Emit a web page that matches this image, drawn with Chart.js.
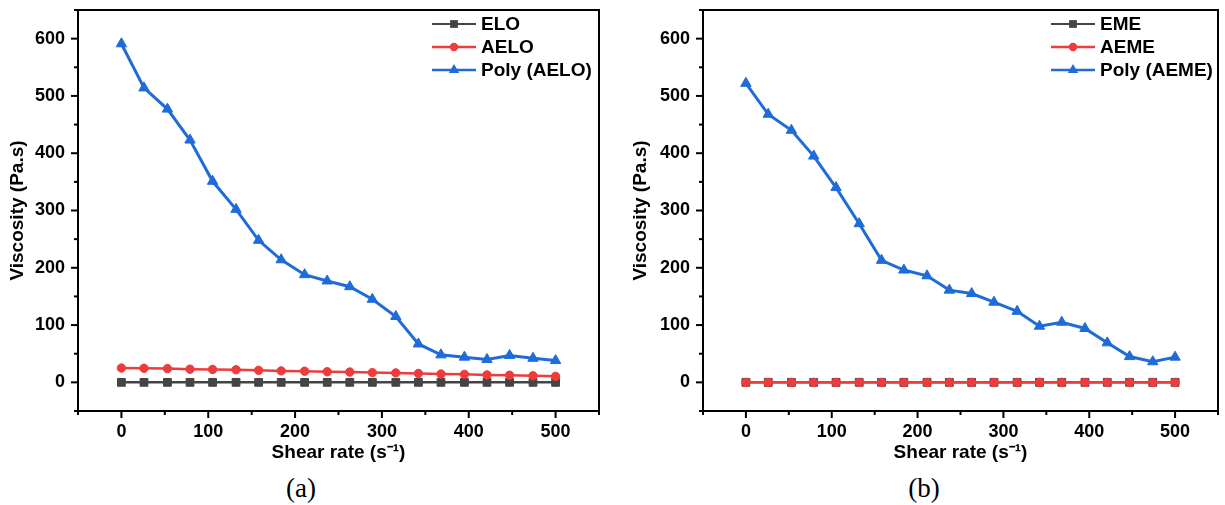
<!DOCTYPE html>
<html>
<head>
<meta charset="utf-8">
<script src="https://cdn.jsdelivr.net/npm/chart.js@4.4.1/dist/chart.umd.min.js"></script>
<style>
  html, body { margin: 0; padding: 0; background: #fff; }
  #wrap { position: relative; width: 1225px; height: 505px; }
  .panel { position: absolute; top: 0; height: 470px; }
  #pa { left: 0; width: 612px; }
  #pb { left: 612px; width: 613px; }
  .cap { position: absolute; top: 473px; width: 80px; text-align: center;
         font-family: "Liberation Serif", "Times New Roman", serif; font-size: 27px; color: #000; }
</style>
</head>
<body>
<div id="wrap">
  <div class="panel" id="pa"><canvas id="chartA"></canvas></div>
  <div class="panel" id="pb"><canvas id="chartB"></canvas></div>
  <div class="cap" style="left:261px">(a)</div>
  <div class="cap" style="left:884px">(b)</div>
</div>
<script>
// shear rate (s-1), same for every series
const shearRate = [0, 26, 53, 79, 105, 132, 158, 184, 211, 237, 263, 289, 316, 342, 368, 395, 421, 447, 474, 500];

// panel (a)
const eloVisc = [0, 0, 0, 0, 0, 0, 0, 0, 0, 0, 0, 0, 0, 0, 0, 0, 0, 0, 0, 0];
const aeloVisc = [25, 24.5, 24, 23, 22.5, 22, 21, 20, 19.5, 18.5, 18, 17, 16.5, 15.5, 14.5, 14, 13, 12.5, 11.5, 10.5];
const polyAeloVisc = [591, 514, 477, 423, 351, 302, 248, 214, 188, 177, 167, 145, 115, 67, 48, 44, 40, 47, 42, 38];

// panel (b)
const emeVisc = [0, 0, 0, 0, 0, 0, 0, 0, 0, 0, 0, 0, 0, 0, 0, 0, 0, 0, 0, 0];
const aemeVisc = [0, 0, 0, 0, 0, 0, 0, 0, 0, 0, 0, 0, 0, 0, 0, 0, 0, 0, 0, 0];
const polyAemeVisc = [522, 468, 440, 395, 340, 277, 213, 196, 186, 161, 155, 140, 124, 98, 105, 94, 69, 45, 36, 44];

const namesA = ['ELO', 'AELO', 'Poly (AELO)'];
const namesB = ['EME', 'AEME', 'Poly (AEME)'];

const xRange = [-50, 550];
const yRange = [-50, 650];

const BLACK = '#454545';
const RED = '#ef3b3b';
const BLUE = '#1f6bd8';
const FONT = '"Liberation Sans", Arial, sans-serif';

function pts(ys) {
  return shearRate.map((x, i) => ({ x: x, y: ys[i] }));
}

function series(names, ys) {
  const styles = [
    { color: BLACK, pointStyle: 'rect', pointRadius: 5.5, borderWidth: 2.5, order: 2 },
    { color: RED, pointStyle: 'circle', pointRadius: 4.2, borderWidth: 2.5, order: 1 },
    { color: BLUE, pointStyle: 'triangle', pointRadius: 6, borderWidth: 3, order: 0 }
  ];
  return names.map((n, i) => ({
    label: n,
    data: pts(ys[i]),
    borderColor: styles[i].color,
    backgroundColor: styles[i].color,
    pointBackgroundColor: styles[i].color,
    pointBorderColor: styles[i].color,
    pointBorderWidth: 1,
    pointStyle: styles[i].pointStyle,
    pointRadius: styles[i].pointRadius,
    borderWidth: styles[i].borderWidth,
    order: styles[i].order,
    tension: 0
  }));
}

function marker(ctx, style, x, y, r, color) {
  ctx.fillStyle = color;
  ctx.beginPath();
  if (style === 'rect') {
    const s = r * Math.SQRT1_2;
    ctx.rect(x - s, y - s, 2 * s, 2 * s);
  } else if (style === 'circle') {
    ctx.arc(x, y, r, 0, Math.PI * 2);
  } else {
    ctx.moveTo(x, y - r);
    ctx.lineTo(x + r * 0.866, y + r * 0.5);
    ctx.lineTo(x - r * 0.866, y + r * 0.5);
    ctx.closePath();
  }
  ctx.fill();
}

// box frame, minor/major ticks and the in-plot legend
const framePlugin = {
  id: 'frame',
  afterDraw(chart) {
    const { ctx, chartArea: a, scales } = chart;
    const x = scales.x, y = scales.y;
    ctx.save();
    ctx.strokeStyle = '#000';
    ctx.lineWidth = 2;
    ctx.strokeRect(a.left, a.top, a.right - a.left, a.bottom - a.top);

    x.ticks.forEach(t => {
      const px = x.getPixelForValue(t.value);
      const len = t.value % 100 === 0 ? 7 : 4;
      ctx.beginPath();
      ctx.moveTo(px, a.bottom);
      ctx.lineTo(px, a.bottom + len);
      ctx.stroke();
    });
    y.ticks.forEach(t => {
      const py = y.getPixelForValue(t.value);
      const len = t.value % 100 === 0 ? 7 : 4;
      ctx.beginPath();
      ctx.moveTo(a.left, py);
      ctx.lineTo(a.left - len, py);
      ctx.stroke();
    });

    // legend
    const x0 = a.right - 167, x1 = a.right - 123, tx = a.right - 118;
    ctx.font = 'bold 19px ' + FONT;
    ctx.textBaseline = 'middle';
    ctx.textAlign = 'left';
    chart.data.datasets.forEach((ds, i) => {
      const ly = a.top + 14 + i * 23;
      ctx.strokeStyle = ds.borderColor;
      ctx.lineWidth = i === 0 ? 2 : 2.5;
      ctx.beginPath();
      ctx.moveTo(x0, ly);
      ctx.lineTo(x1, ly);
      ctx.stroke();
      marker(ctx, ds.pointStyle, (x0 + x1) / 2, ly, ds.pointRadius, ds.borderColor);
      ctx.fillStyle = '#000';
      ctx.fillText(ds.label, tx, ly + 1);
    });
    ctx.restore();
  }
};

function makeChart(id, names, ys, yWidth, padRight, titlePad) {
  return new Chart(document.getElementById(id), {
    type: 'line',
    data: { datasets: series(names, ys) },
    options: {
      responsive: true,
      maintainAspectRatio: false,
      animation: false,
      events: [],
      layout: { padding: { top: 10, right: padRight, left: 0, bottom: 0 } },
      plugins: { legend: { display: false }, tooltip: { enabled: false } },
      scales: {
        x: {
          type: 'linear',
          min: xRange[0], max: xRange[1],
          afterFit: s => { s.height = 59; s.paddingLeft = 0; s.paddingRight = 0; },
          border: { display: true, color: '#000', width: 2 },
          grid: { display: true, drawOnChartArea: false, drawTicks: true, tickLength: 7, tickColor: 'rgba(0,0,0,0)' },
          ticks: {
            stepSize: 50, padding: 3, color: '#000', maxRotation: 0, autoSkip: false,
            font: { family: FONT, size: 18, weight: 'bold' },
            callback: v => (v % 100 === 0 ? String(v) : '')
          },
          title: {
            display: true, text: 'Shear rate (s⁻¹)', color: '#000',
            font: { family: FONT, size: 19, weight: 'bold' },
            padding: { top: 0, bottom: 6 }
          }
        },
        y: {
          type: 'linear',
          min: yRange[0], max: yRange[1],
          afterFit: s => { s.width = yWidth; s.paddingTop = 0; s.paddingBottom = 0; },
          border: { display: true, color: '#000', width: 2 },
          grid: { display: true, drawOnChartArea: false, drawTicks: true, tickLength: 7, tickColor: 'rgba(0,0,0,0)' },
          ticks: {
            stepSize: 50, padding: 6, color: '#000', autoSkip: false,
            font: { family: FONT, size: 18, weight: 'bold' },
            callback: v => (v % 100 === 0 ? String(v) : '')
          },
          title: {
            display: true, text: 'Viscosity (Pa.s)', color: '#000',
            font: { family: FONT, size: 19, weight: 'bold' },
            padding: { top: titlePad, bottom: 0 }
          }
        }
      }
    },
    plugins: [framePlugin]
  });
}

makeChart('chartA', namesA, [eloVisc, aeloVisc, polyAeloVisc], 78, 13, 6);
makeChart('chartB', namesB, [emeVisc, aemeVisc, polyAemeVisc], 91, 4, 17);
</script>
</body>
</html>
